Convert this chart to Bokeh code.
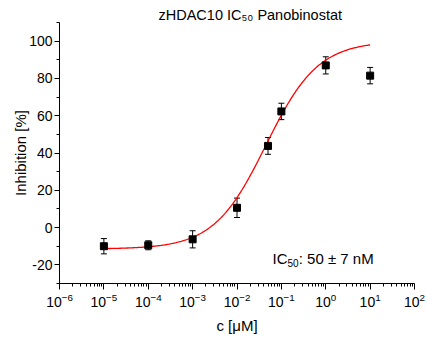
import numpy as np
from bokeh.plotting import figure
from bokeh.models import (Range1d, FixedTicker, Label, Whisker, TeeHead, ColumnDataSource)
from bokeh.embed import file_html
from bokeh.resources import INLINE

# ---- data ----
conc = [1e-5, 1e-4, 1e-3, 1e-2, 0.05, 0.1, 1.0, 10.0]          # c [uM]
inhibition = [-10.0, -9.5, -6.3, 10.6, 43.8, 62.3, 87.0, 81.5]   # %
error = [4.1, 2.4, 4.6, 5.2, 4.5, 4.4, 4.6, 4.4]

# 4-parameter logistic fit shown as the red curve
fit_bottom = -11.5
fit_top = 100.0
fit_ic50 = 0.045
fit_hill = 0.74
fit_x_from, fit_x_to = 1e-5, 10.0

x_tick_exponents = [-6, -5, -4, -3, -2, -1, 0, 1, 2]
y_ticks = [-20, 0, 20, 40, 60, 80, 100]
y_minor_ticks = [-30, -10, 10, 30, 50, 70, 90, 110]

title_text = "zHDAC10 IC₅₀ Panobinostat"
x_title = "c [μM]"
y_title = "Inhibition [%]"
ann_main = "IC"
ann_sub = "50"
ann_tail = ": 50 ± 7 nM"

FONT = "Liberation Sans"
XMIN, XMAX = 1e-6, 1e2
YMIN, YMAX = -30, 110

p = figure(width=426, height=338, x_axis_type="log",
           x_range=Range1d(XMIN, XMAX), y_range=Range1d(YMIN, YMAX),
           output_backend="svg", toolbar_location=None,
           min_border_left=59, min_border_right=12, min_border_top=22, min_border_bottom=55)
p.outline_line_color = None
p.xgrid.visible = False
p.ygrid.visible = False
p.background_fill_color = "white"
p.border_fill_color = "white"

# title
p.title.text = title_text
p.title.align = "left"
p.title.offset = 99
p.title.standoff = 0
p.title.text_font = FONT
p.title.text_font_size = "14.5px"
p.title.text_font_style = "normal"
p.title.text_color = "black"

# x axis
xt = [10.0 ** e for e in x_tick_exponents]
minor = [m * 10.0 ** e for e in x_tick_exponents[:-1] for m in range(2, 10)]
xa = p.xaxis[0]
xa.ticker = FixedTicker(ticks=xt, minor_ticks=minor)
xa.major_label_text_font = FONT
xa.major_label_text_font_size = "14px"
xa.major_label_text_color = "black"
xa.major_label_standoff = 3
xa.major_tick_in = 0
xa.major_tick_out = 6
xa.minor_tick_in = 0
xa.minor_tick_out = 3
xa.axis_line_color = "black"
xa.major_tick_line_color = "black"
xa.minor_tick_line_color = "black"
xa.axis_label = x_title
xa.axis_label_text_font = FONT
xa.axis_label_text_font_size = "15px"
xa.axis_label_text_font_style = "normal"
xa.axis_label_text_color = "black"
xa.axis_label_standoff = 7

# y axis
ya = p.yaxis[0]
ya.ticker = FixedTicker(ticks=y_ticks, minor_ticks=y_minor_ticks)
ya.major_label_overrides = {t: str(t) for t in y_ticks}
ya.major_tick_in = 0
ya.major_tick_out = 5
ya.minor_tick_in = 0
ya.minor_tick_out = 3
ya.major_label_standoff = 2
ya.major_label_text_font = FONT
ya.major_label_text_font_size = "14px"
ya.major_label_text_color = "black"
ya.axis_line_color = "black"
ya.major_tick_line_color = "black"
ya.minor_tick_line_color = "black"
ya.axis_label = y_title
ya.axis_label_text_font = FONT
ya.axis_label_text_font_size = "15px"
ya.axis_label_text_font_style = "normal"
ya.axis_label_text_color = "black"
ya.axis_label_standoff = -3

# fit curve
xs = np.logspace(np.log10(fit_x_from), np.log10(fit_x_to), 300)
ys = fit_bottom + (fit_top - fit_bottom) / (1.0 + (fit_ic50 / xs) ** fit_hill)
p.line(xs, ys, line_color="red", line_width=1.3)

# error bars and points
inh = np.array(inhibition)
err = np.array(error)
src = ColumnDataSource(dict(x=conc, y=inhibition, upper=list(inh + err), lower=list(inh - err)))
w = Whisker(base="x", upper="upper", lower="lower", source=src, dimension="height",
            line_color="black", line_width=1,
            upper_head=TeeHead(size=6, line_color="black", line_width=1),
            lower_head=TeeHead(size=6, line_color="black", line_width=1))
p.add_layout(w)
p.scatter("x", "y", source=src, marker="square", size=7, fill_color="black", line_color="black")

def lab(x, y, text, xo, yo, size):
    p.add_layout(Label(x=x, y=y, text=text, x_offset=xo, y_offset=yo,
                       text_font=FONT, text_font_size=f"{size}px", text_color="black",
                       text_align="left", text_baseline="alphabetic"))

# IC50 annotation (inside the frame)
lab(XMIN, YMIN, ann_main, 213, 24.7, 15)
lab(XMIN, YMIN, ann_sub, 228, 20.7, 10)
lab(XMIN, YMIN, ann_tail, 239.2, 24.7, 15)

open("out.html", "w").write(file_html(p, INLINE))
